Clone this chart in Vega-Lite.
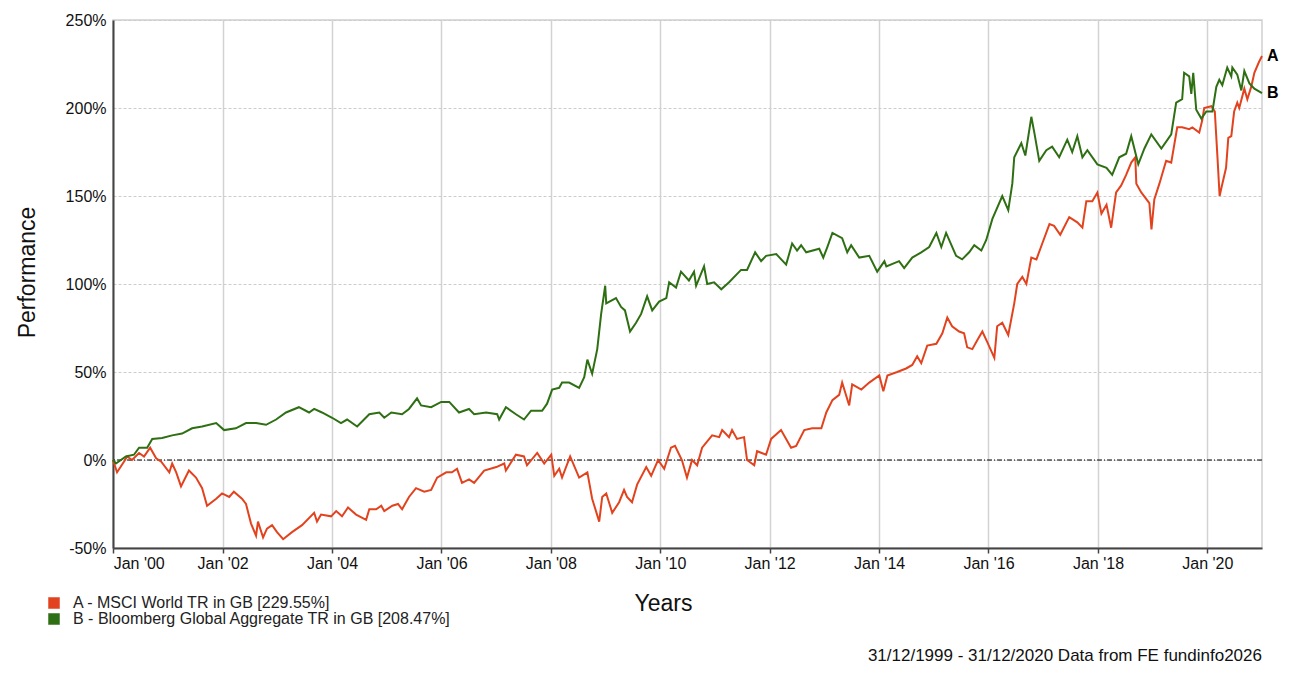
{
  "$schema": "https://vega.github.io/schema/vega-lite/v6.json",
  "width": 1149,
  "height": 528,
  "autosize": "none",
  "padding": {"left": 113, "top": 20, "right": 31, "bottom": 125},
  "background": "white",
  "title": {
    "text": "31/12/1999 - 31/12/2020 Data from FE fundinfo2026",
    "orient": "bottom",
    "anchor": "end",
    "frame": "group",
    "offset": 21,
    "fontSize": 17,
    "fontWeight": "normal",
    "font": "Liberation Sans",
    "color": "#111"
  },
  "data": {
    "values": [
      {"s": "A", "d": "1999-12-31", "v": 0},
      {"s": "A", "d": "2000-01-27", "v": -7},
      {"s": "A", "d": "2000-03-13", "v": -1},
      {"s": "A", "d": "2000-04-03", "v": 2},
      {"s": "A", "d": "2000-05-06", "v": 0},
      {"s": "A", "d": "2000-06-22", "v": 4},
      {"s": "A", "d": "2000-07-25", "v": 2},
      {"s": "A", "d": "2000-09-04", "v": 7},
      {"s": "A", "d": "2000-10-14", "v": 1},
      {"s": "A", "d": "2000-11-17", "v": -1},
      {"s": "A", "d": "2001-01-10", "v": -7},
      {"s": "A", "d": "2001-01-29", "v": -2},
      {"s": "A", "d": "2001-02-25", "v": -7},
      {"s": "A", "d": "2001-03-29", "v": -15},
      {"s": "A", "d": "2001-05-21", "v": -6},
      {"s": "A", "d": "2001-07-07", "v": -10},
      {"s": "A", "d": "2001-08-17", "v": -16},
      {"s": "A", "d": "2001-09-19", "v": -26},
      {"s": "A", "d": "2001-11-19", "v": -22},
      {"s": "A", "d": "2001-12-28", "v": -19},
      {"s": "A", "d": "2002-02-14", "v": -21},
      {"s": "A", "d": "2002-03-17", "v": -18},
      {"s": "A", "d": "2002-05-10", "v": -22},
      {"s": "A", "d": "2002-06-06", "v": -25},
      {"s": "A", "d": "2002-07-09", "v": -36},
      {"s": "A", "d": "2002-08-12", "v": -43},
      {"s": "A", "d": "2002-08-25", "v": -35},
      {"s": "A", "d": "2002-09-28", "v": -44},
      {"s": "A", "d": "2002-10-24", "v": -39},
      {"s": "A", "d": "2002-11-27", "v": -37},
      {"s": "A", "d": "2002-12-30", "v": -41},
      {"s": "A", "d": "2003-02-09", "v": -45},
      {"s": "A", "d": "2003-04-09", "v": -41},
      {"s": "A", "d": "2003-06-15", "v": -37},
      {"s": "A", "d": "2003-09-04", "v": -30},
      {"s": "A", "d": "2003-09-23", "v": -35},
      {"s": "A", "d": "2003-10-20", "v": -31},
      {"s": "A", "d": "2003-12-26", "v": -32},
      {"s": "A", "d": "2004-01-29", "v": -29},
      {"s": "A", "d": "2004-03-08", "v": -32},
      {"s": "A", "d": "2004-04-17", "v": -27},
      {"s": "A", "d": "2004-06-10", "v": -31},
      {"s": "A", "d": "2004-08-16", "v": -34},
      {"s": "A", "d": "2004-09-06", "v": -28},
      {"s": "A", "d": "2004-10-22", "v": -28},
      {"s": "A", "d": "2004-11-25", "v": -26},
      {"s": "A", "d": "2004-12-15", "v": -29},
      {"s": "A", "d": "2005-02-07", "v": -26},
      {"s": "A", "d": "2005-03-17", "v": -25},
      {"s": "A", "d": "2005-04-13", "v": -28},
      {"s": "A", "d": "2005-05-29", "v": -21},
      {"s": "A", "d": "2005-07-15", "v": -16},
      {"s": "A", "d": "2005-09-08", "v": -18},
      {"s": "A", "d": "2005-10-24", "v": -17},
      {"s": "A", "d": "2005-12-03", "v": -10},
      {"s": "A", "d": "2006-02-02", "v": -7},
      {"s": "A", "d": "2006-03-12", "v": -7},
      {"s": "A", "d": "2006-04-15", "v": -5},
      {"s": "A", "d": "2006-05-18", "v": -13},
      {"s": "A", "d": "2006-07-04", "v": -11},
      {"s": "A", "d": "2006-08-07", "v": -13},
      {"s": "A", "d": "2006-10-13", "v": -6},
      {"s": "A", "d": "2007-01-02", "v": -4},
      {"s": "A", "d": "2007-02-24", "v": -2},
      {"s": "A", "d": "2007-03-07", "v": -6},
      {"s": "A", "d": "2007-05-13", "v": 3},
      {"s": "A", "d": "2007-07-06", "v": 2},
      {"s": "A", "d": "2007-07-26", "v": -3},
      {"s": "A", "d": "2007-10-02", "v": 4},
      {"s": "A", "d": "2007-11-18", "v": -2},
      {"s": "A", "d": "2008-01-04", "v": 3},
      {"s": "A", "d": "2008-01-24", "v": -9},
      {"s": "A", "d": "2008-02-26", "v": -5},
      {"s": "A", "d": "2008-03-16", "v": -10},
      {"s": "A", "d": "2008-05-09", "v": 2},
      {"s": "A", "d": "2008-07-08", "v": -10},
      {"s": "A", "d": "2008-09-01", "v": -7},
      {"s": "A", "d": "2008-10-03", "v": -22},
      {"s": "A", "d": "2008-11-19", "v": -35},
      {"s": "A", "d": "2008-12-09", "v": -21},
      {"s": "A", "d": "2009-01-05", "v": -19},
      {"s": "A", "d": "2009-02-14", "v": -30},
      {"s": "A", "d": "2009-04-01", "v": -24},
      {"s": "A", "d": "2009-05-04", "v": -17},
      {"s": "A", "d": "2009-05-24", "v": -21},
      {"s": "A", "d": "2009-06-26", "v": -24},
      {"s": "A", "d": "2009-07-30", "v": -14},
      {"s": "A", "d": "2009-09-29", "v": -4},
      {"s": "A", "d": "2009-11-01", "v": -9},
      {"s": "A", "d": "2009-12-17", "v": 0},
      {"s": "A", "d": "2010-01-27", "v": -5},
      {"s": "A", "d": "2010-03-13", "v": 7},
      {"s": "A", "d": "2010-04-09", "v": 8},
      {"s": "A", "d": "2010-05-25", "v": 0},
      {"s": "A", "d": "2010-06-28", "v": -10},
      {"s": "A", "d": "2010-08-01", "v": 0},
      {"s": "A", "d": "2010-09-04", "v": -3},
      {"s": "A", "d": "2010-10-07", "v": 7},
      {"s": "A", "d": "2010-12-13", "v": 14},
      {"s": "A", "d": "2011-01-29", "v": 13},
      {"s": "A", "d": "2011-02-18", "v": 17},
      {"s": "A", "d": "2011-04-05", "v": 13},
      {"s": "A", "d": "2011-04-25", "v": 17},
      {"s": "A", "d": "2011-05-28", "v": 12},
      {"s": "A", "d": "2011-07-14", "v": 13},
      {"s": "A", "d": "2011-08-03", "v": 0},
      {"s": "A", "d": "2011-09-20", "v": -3},
      {"s": "A", "d": "2011-10-09", "v": 5},
      {"s": "A", "d": "2011-12-08", "v": 3},
      {"s": "A", "d": "2012-01-11", "v": 12},
      {"s": "A", "d": "2012-03-17", "v": 17},
      {"s": "A", "d": "2012-04-20", "v": 12},
      {"s": "A", "d": "2012-05-23", "v": 7},
      {"s": "A", "d": "2012-06-26", "v": 8},
      {"s": "A", "d": "2012-08-19", "v": 17},
      {"s": "A", "d": "2012-10-11", "v": 18},
      {"s": "A", "d": "2012-12-11", "v": 18},
      {"s": "A", "d": "2013-01-13", "v": 27},
      {"s": "A", "d": "2013-02-23", "v": 34},
      {"s": "A", "d": "2013-04-09", "v": 37},
      {"s": "A", "d": "2013-04-29", "v": 44},
      {"s": "A", "d": "2013-06-15", "v": 31},
      {"s": "A", "d": "2013-07-05", "v": 43},
      {"s": "A", "d": "2013-09-04", "v": 40},
      {"s": "A", "d": "2013-10-27", "v": 44},
      {"s": "A", "d": "2014-01-02", "v": 48},
      {"s": "A", "d": "2014-01-29", "v": 39},
      {"s": "A", "d": "2014-02-25", "v": 48},
      {"s": "A", "d": "2014-05-01", "v": 50},
      {"s": "A", "d": "2014-06-30", "v": 52},
      {"s": "A", "d": "2014-08-10", "v": 54},
      {"s": "A", "d": "2014-09-12", "v": 59},
      {"s": "A", "d": "2014-10-09", "v": 55},
      {"s": "A", "d": "2014-11-18", "v": 65},
      {"s": "A", "d": "2015-01-18", "v": 66},
      {"s": "A", "d": "2015-02-27", "v": 72},
      {"s": "A", "d": "2015-04-01", "v": 81},
      {"s": "A", "d": "2015-05-03", "v": 76},
      {"s": "A", "d": "2015-06-19", "v": 73},
      {"s": "A", "d": "2015-07-22", "v": 72},
      {"s": "A", "d": "2015-08-12", "v": 64},
      {"s": "A", "d": "2015-09-15", "v": 63},
      {"s": "A", "d": "2015-10-18", "v": 68},
      {"s": "A", "d": "2015-11-21", "v": 73},
      {"s": "A", "d": "2015-12-24", "v": 67},
      {"s": "A", "d": "2016-02-09", "v": 58},
      {"s": "A", "d": "2016-02-28", "v": 76},
      {"s": "A", "d": "2016-04-02", "v": 78},
      {"s": "A", "d": "2016-05-12", "v": 71},
      {"s": "A", "d": "2016-06-21", "v": 89},
      {"s": "A", "d": "2016-07-11", "v": 100},
      {"s": "A", "d": "2016-08-14", "v": 104},
      {"s": "A", "d": "2016-09-10", "v": 100},
      {"s": "A", "d": "2016-10-13", "v": 115},
      {"s": "A", "d": "2016-11-16", "v": 114},
      {"s": "A", "d": "2016-12-25", "v": 123},
      {"s": "A", "d": "2017-02-11", "v": 134},
      {"s": "A", "d": "2017-03-14", "v": 133},
      {"s": "A", "d": "2017-04-24", "v": 128},
      {"s": "A", "d": "2017-06-23", "v": 138},
      {"s": "A", "d": "2017-08-16", "v": 135},
      {"s": "A", "d": "2017-09-19", "v": 132},
      {"s": "A", "d": "2017-10-15", "v": 147},
      {"s": "A", "d": "2017-11-24", "v": 147},
      {"s": "A", "d": "2017-12-28", "v": 152},
      {"s": "A", "d": "2018-01-24", "v": 140},
      {"s": "A", "d": "2018-02-27", "v": 145},
      {"s": "A", "d": "2018-03-30", "v": 132},
      {"s": "A", "d": "2018-05-02", "v": 152},
      {"s": "A", "d": "2018-06-05", "v": 156},
      {"s": "A", "d": "2018-07-08", "v": 162},
      {"s": "A", "d": "2018-08-11", "v": 169},
      {"s": "A", "d": "2018-09-07", "v": 172},
      {"s": "A", "d": "2018-09-14", "v": 157},
      {"s": "A", "d": "2018-10-17", "v": 152},
      {"s": "A", "d": "2018-12-10", "v": 146},
      {"s": "A", "d": "2018-12-24", "v": 131},
      {"s": "A", "d": "2019-01-12", "v": 148},
      {"s": "A", "d": "2019-02-15", "v": 157},
      {"s": "A", "d": "2019-04-01", "v": 170},
      {"s": "A", "d": "2019-05-05", "v": 169},
      {"s": "A", "d": "2019-06-14", "v": 189},
      {"s": "A", "d": "2019-07-17", "v": 189},
      {"s": "A", "d": "2019-09-02", "v": 188},
      {"s": "A", "d": "2019-09-23", "v": 189},
      {"s": "A", "d": "2019-11-08", "v": 186},
      {"s": "A", "d": "2019-11-28", "v": 193},
      {"s": "A", "d": "2019-12-11", "v": 200},
      {"s": "A", "d": "2020-01-28", "v": 201},
      {"s": "A", "d": "2020-02-20", "v": 198},
      {"s": "A", "d": "2020-03-10", "v": 170},
      {"s": "A", "d": "2020-03-23", "v": 150},
      {"s": "A", "d": "2020-04-05", "v": 155},
      {"s": "A", "d": "2020-05-05", "v": 166},
      {"s": "A", "d": "2020-05-20", "v": 183},
      {"s": "A", "d": "2020-06-09", "v": 184},
      {"s": "A", "d": "2020-06-28", "v": 198},
      {"s": "A", "d": "2020-07-19", "v": 203},
      {"s": "A", "d": "2020-08-01", "v": 200},
      {"s": "A", "d": "2020-09-04", "v": 211},
      {"s": "A", "d": "2020-09-24", "v": 205},
      {"s": "A", "d": "2020-10-20", "v": 212},
      {"s": "A", "d": "2020-11-10", "v": 220},
      {"s": "A", "d": "2020-12-10", "v": 226},
      {"s": "A", "d": "2020-12-31", "v": 229.55},
      {"s": "B", "d": "1999-12-31", "v": 0},
      {"s": "B", "d": "2000-01-20", "v": -2},
      {"s": "B", "d": "2000-03-26", "v": 2},
      {"s": "B", "d": "2000-05-19", "v": 3},
      {"s": "B", "d": "2000-06-22", "v": 7},
      {"s": "B", "d": "2000-08-15", "v": 7},
      {"s": "B", "d": "2000-09-18", "v": 12},
      {"s": "B", "d": "2000-11-23", "v": 12.5},
      {"s": "B", "d": "2001-01-29", "v": 14},
      {"s": "B", "d": "2001-04-05", "v": 15},
      {"s": "B", "d": "2001-06-11", "v": 18},
      {"s": "B", "d": "2001-08-17", "v": 19},
      {"s": "B", "d": "2001-11-19", "v": 21},
      {"s": "B", "d": "2002-01-11", "v": 17},
      {"s": "B", "d": "2002-03-30", "v": 18},
      {"s": "B", "d": "2002-06-06", "v": 21},
      {"s": "B", "d": "2002-08-12", "v": 21},
      {"s": "B", "d": "2002-10-18", "v": 20},
      {"s": "B", "d": "2002-12-24", "v": 23},
      {"s": "B", "d": "2003-02-28", "v": 27},
      {"s": "B", "d": "2003-05-25", "v": 30},
      {"s": "B", "d": "2003-08-01", "v": 27},
      {"s": "B", "d": "2003-09-04", "v": 29},
      {"s": "B", "d": "2003-10-26", "v": 27},
      {"s": "B", "d": "2004-01-02", "v": 24},
      {"s": "B", "d": "2004-03-01", "v": 21},
      {"s": "B", "d": "2004-04-11", "v": 23},
      {"s": "B", "d": "2004-06-17", "v": 19},
      {"s": "B", "d": "2004-09-06", "v": 26},
      {"s": "B", "d": "2004-11-12", "v": 27},
      {"s": "B", "d": "2004-12-15", "v": 24},
      {"s": "B", "d": "2005-01-31", "v": 27},
      {"s": "B", "d": "2005-04-13", "v": 26},
      {"s": "B", "d": "2005-05-29", "v": 29},
      {"s": "B", "d": "2005-07-22", "v": 35},
      {"s": "B", "d": "2005-08-18", "v": 31},
      {"s": "B", "d": "2005-10-24", "v": 30},
      {"s": "B", "d": "2005-12-30", "v": 33},
      {"s": "B", "d": "2006-02-22", "v": 33},
      {"s": "B", "d": "2006-04-28", "v": 27},
      {"s": "B", "d": "2006-07-04", "v": 29},
      {"s": "B", "d": "2006-08-07", "v": 26},
      {"s": "B", "d": "2006-10-26", "v": 27},
      {"s": "B", "d": "2007-01-08", "v": 26},
      {"s": "B", "d": "2007-01-21", "v": 23},
      {"s": "B", "d": "2007-03-07", "v": 30},
      {"s": "B", "d": "2007-05-13", "v": 26},
      {"s": "B", "d": "2007-07-06", "v": 23},
      {"s": "B", "d": "2007-08-22", "v": 28},
      {"s": "B", "d": "2007-11-04", "v": 28},
      {"s": "B", "d": "2007-12-07", "v": 32},
      {"s": "B", "d": "2008-01-10", "v": 40},
      {"s": "B", "d": "2008-02-26", "v": 41},
      {"s": "B", "d": "2008-03-16", "v": 44},
      {"s": "B", "d": "2008-05-02", "v": 44},
      {"s": "B", "d": "2008-07-08", "v": 41},
      {"s": "B", "d": "2008-08-11", "v": 47},
      {"s": "B", "d": "2008-09-01", "v": 57},
      {"s": "B", "d": "2008-10-03", "v": 49},
      {"s": "B", "d": "2008-11-06", "v": 63},
      {"s": "B", "d": "2008-12-02", "v": 83},
      {"s": "B", "d": "2008-12-29", "v": 99},
      {"s": "B", "d": "2009-01-05", "v": 89},
      {"s": "B", "d": "2009-03-11", "v": 92},
      {"s": "B", "d": "2009-04-14", "v": 87},
      {"s": "B", "d": "2009-05-10", "v": 85},
      {"s": "B", "d": "2009-06-13", "v": 73},
      {"s": "B", "d": "2009-07-23", "v": 78},
      {"s": "B", "d": "2009-08-26", "v": 83},
      {"s": "B", "d": "2009-10-05", "v": 93},
      {"s": "B", "d": "2009-11-08", "v": 85},
      {"s": "B", "d": "2009-12-24", "v": 90},
      {"s": "B", "d": "2010-02-10", "v": 92},
      {"s": "B", "d": "2010-03-01", "v": 101},
      {"s": "B", "d": "2010-04-16", "v": 98},
      {"s": "B", "d": "2010-05-19", "v": 107},
      {"s": "B", "d": "2010-07-11", "v": 102},
      {"s": "B", "d": "2010-08-14", "v": 107},
      {"s": "B", "d": "2010-08-28", "v": 99},
      {"s": "B", "d": "2010-10-20", "v": 110},
      {"s": "B", "d": "2010-11-10", "v": 100},
      {"s": "B", "d": "2010-12-26", "v": 101},
      {"s": "B", "d": "2011-02-12", "v": 97},
      {"s": "B", "d": "2011-04-05", "v": 101},
      {"s": "B", "d": "2011-06-24", "v": 108},
      {"s": "B", "d": "2011-08-03", "v": 108},
      {"s": "B", "d": "2011-09-26", "v": 118},
      {"s": "B", "d": "2011-11-05", "v": 113},
      {"s": "B", "d": "2011-12-08", "v": 116},
      {"s": "B", "d": "2012-02-14", "v": 117},
      {"s": "B", "d": "2012-04-20", "v": 111},
      {"s": "B", "d": "2012-05-30", "v": 123},
      {"s": "B", "d": "2012-07-02", "v": 119},
      {"s": "B", "d": "2012-07-29", "v": 122},
      {"s": "B", "d": "2012-09-01", "v": 118},
      {"s": "B", "d": "2012-11-27", "v": 120},
      {"s": "B", "d": "2012-12-24", "v": 115},
      {"s": "B", "d": "2013-01-20", "v": 121},
      {"s": "B", "d": "2013-02-23", "v": 129},
      {"s": "B", "d": "2013-04-29", "v": 126},
      {"s": "B", "d": "2013-06-02", "v": 118},
      {"s": "B", "d": "2013-06-28", "v": 122},
      {"s": "B", "d": "2013-08-21", "v": 115},
      {"s": "B", "d": "2013-10-27", "v": 116},
      {"s": "B", "d": "2013-12-19", "v": 107},
      {"s": "B", "d": "2014-02-05", "v": 113},
      {"s": "B", "d": "2014-02-18", "v": 110},
      {"s": "B", "d": "2014-05-14", "v": 113},
      {"s": "B", "d": "2014-06-17", "v": 109},
      {"s": "B", "d": "2014-08-10", "v": 115},
      {"s": "B", "d": "2014-10-09", "v": 118},
      {"s": "B", "d": "2014-12-01", "v": 121},
      {"s": "B", "d": "2015-01-18", "v": 129},
      {"s": "B", "d": "2015-02-20", "v": 121},
      {"s": "B", "d": "2015-03-24", "v": 129},
      {"s": "B", "d": "2015-05-30", "v": 116},
      {"s": "B", "d": "2015-07-09", "v": 114},
      {"s": "B", "d": "2015-08-25", "v": 118},
      {"s": "B", "d": "2015-09-28", "v": 122},
      {"s": "B", "d": "2015-11-14", "v": 119},
      {"s": "B", "d": "2015-12-17", "v": 125},
      {"s": "B", "d": "2016-01-27", "v": 137},
      {"s": "B", "d": "2016-04-02", "v": 150},
      {"s": "B", "d": "2016-05-12", "v": 142},
      {"s": "B", "d": "2016-06-08", "v": 157},
      {"s": "B", "d": "2016-06-21", "v": 172},
      {"s": "B", "d": "2016-08-07", "v": 180},
      {"s": "B", "d": "2016-09-03", "v": 173},
      {"s": "B", "d": "2016-10-13", "v": 195},
      {"s": "B", "d": "2016-11-02", "v": 186},
      {"s": "B", "d": "2016-12-05", "v": 170},
      {"s": "B", "d": "2017-01-21", "v": 176},
      {"s": "B", "d": "2017-03-01", "v": 178},
      {"s": "B", "d": "2017-04-17", "v": 172},
      {"s": "B", "d": "2017-06-10", "v": 182},
      {"s": "B", "d": "2017-07-13", "v": 175},
      {"s": "B", "d": "2017-08-16", "v": 184},
      {"s": "B", "d": "2017-09-19", "v": 172},
      {"s": "B", "d": "2017-10-22", "v": 176},
      {"s": "B", "d": "2017-12-28", "v": 168},
      {"s": "B", "d": "2018-02-27", "v": 166},
      {"s": "B", "d": "2018-04-06", "v": 162},
      {"s": "B", "d": "2018-05-23", "v": 172},
      {"s": "B", "d": "2018-07-08", "v": 174},
      {"s": "B", "d": "2018-08-11", "v": 184},
      {"s": "B", "d": "2018-09-27", "v": 168},
      {"s": "B", "d": "2018-11-07", "v": 177},
      {"s": "B", "d": "2018-12-23", "v": 185},
      {"s": "B", "d": "2019-02-28", "v": 177},
      {"s": "B", "d": "2019-05-05", "v": 185},
      {"s": "B", "d": "2019-06-07", "v": 203},
      {"s": "B", "d": "2019-07-17", "v": 205},
      {"s": "B", "d": "2019-07-30", "v": 220},
      {"s": "B", "d": "2019-09-02", "v": 218},
      {"s": "B", "d": "2019-09-16", "v": 208},
      {"s": "B", "d": "2019-09-29", "v": 220},
      {"s": "B", "d": "2019-10-19", "v": 199},
      {"s": "B", "d": "2019-11-22", "v": 194},
      {"s": "B", "d": "2019-12-25", "v": 198},
      {"s": "B", "d": "2020-02-04", "v": 198},
      {"s": "B", "d": "2020-03-01", "v": 212},
      {"s": "B", "d": "2020-03-21", "v": 216},
      {"s": "B", "d": "2020-04-10", "v": 213},
      {"s": "B", "d": "2020-05-13", "v": 223},
      {"s": "B", "d": "2020-06-09", "v": 218},
      {"s": "B", "d": "2020-06-16", "v": 223},
      {"s": "B", "d": "2020-07-19", "v": 219},
      {"s": "B", "d": "2020-08-15", "v": 210},
      {"s": "B", "d": "2020-09-04", "v": 221},
      {"s": "B", "d": "2020-10-08", "v": 214},
      {"s": "B", "d": "2020-11-10", "v": 211},
      {"s": "B", "d": "2020-12-31", "v": 208.47}
    ]
  },
  "layer": [
    {
      "data": {"values": [{"zero": 0}]},
      "mark": {"type": "rule", "color": "#000", "strokeWidth": 1, "strokeDash": [5, 2, 1, 2]},
      "encoding": {"y": {"field": "zero", "type": "quantitative"}}
    },
    {
      "mark": {"type": "line", "strokeWidth": 2, "interpolate": "linear"},
      "encoding": {
        "x": {
          "field": "d",
          "type": "temporal",
          "scale": {"domain": ["1999-12-31", "2020-12-31"], "nice": false},
          "axis": {
            "title": "Years",
            "format": "%b '%y",
            "tickCount": {"interval": "year", "step": 2},
            "titleX": 550,
            "titleY": 44,
            "titleAlign": "center",
            "titleBaseline": "top",
            "titleFontSize": 23,
            "labelPadding": 2,
            "tickSize": 5,
            "grid": true,
            "gridColor": "#d2d2d2",
            "gridWidth": 1.5
          }
        },
        "y": {
          "field": "v",
          "type": "quantitative",
          "scale": {"domain": [-50, 250], "nice": false, "zero": false},
          "axis": {
            "title": "Performance",
            "values": [-50, 0, 50, 100, 150, 200, 250],
            "labelExpr": "datum.value + '%'",
            "titleX": -86,
            "titleY": 252,
            "titleAlign": "center",
            "titleBaseline": "middle",
            "titleFontSize": 23,
            "ticks": false,
            "labelPadding": 7,
            "grid": true,
            "gridColor": "#cccccc",
            "gridDash": [3, 2],
            "gridWidth": 1
          }
        },
        "color": {
          "field": "s",
          "type": "nominal",
          "scale": {"domain": ["A", "B"], "range": ["#e2431e", "#2f6f14"]},
          "legend": {
            "title": null,
            "orient": "none",
            "legendX": -67,
            "legendY": 575,
            "direction": "vertical",
            "symbolType": "square",
            "symbolSize": 121,
            "labelFontSize": 16,
            "labelLimit": 600,
            "labelOffset": 11,
            "rowPadding": 0,
            "labelExpr": "datum.label == 'A' ? 'A - MSCI World TR in GB [229.55%]' : 'B - Bloomberg Global Aggregate TR in GB [208.47%]'",
            "encode": {
              "symbols": {
                "update": {
                  "fill": {"scale": "color", "field": "value"},
                  "fillOpacity": {"value": 1},
                  "stroke": {"value": "#888"},
                  "strokeWidth": {"value": 0.5}
                }
              }
            }
          }
        }
      }
    },
    {
      "data": {
        "values": [
          {"s": "A", "d": "2020-12-31", "v": 229.55},
          {"s": "B", "d": "2020-12-31", "v": 208.47}
        ]
      },
      "mark": {"type": "text", "align": "left", "baseline": "middle", "dx": 5, "fontSize": 16, "fontWeight": "bold", "color": "#000"},
      "encoding": {
        "x": {"field": "d", "type": "temporal"},
        "y": {"field": "v", "type": "quantitative"},
        "text": {"field": "s", "type": "nominal"}
      }
    }
  ],
  "config": {
    "font": "Liberation Sans",
    "view": {"stroke": "#d0d0d0", "strokeWidth": 1.5},
    "axis": {
      "labelFont": "Liberation Sans",
      "titleFont": "Liberation Sans",
      "labelFontSize": 16,
      "labelColor": "#111",
      "titleColor": "#111",
      "titleFontWeight": "normal",
      "domainColor": "#444",
      "domainWidth": 2,
      "tickColor": "#444",
      "tickWidth": 1.5
    },
    "legend": {"labelFont": "Liberation Sans", "labelColor": "#222"}
  }
}
